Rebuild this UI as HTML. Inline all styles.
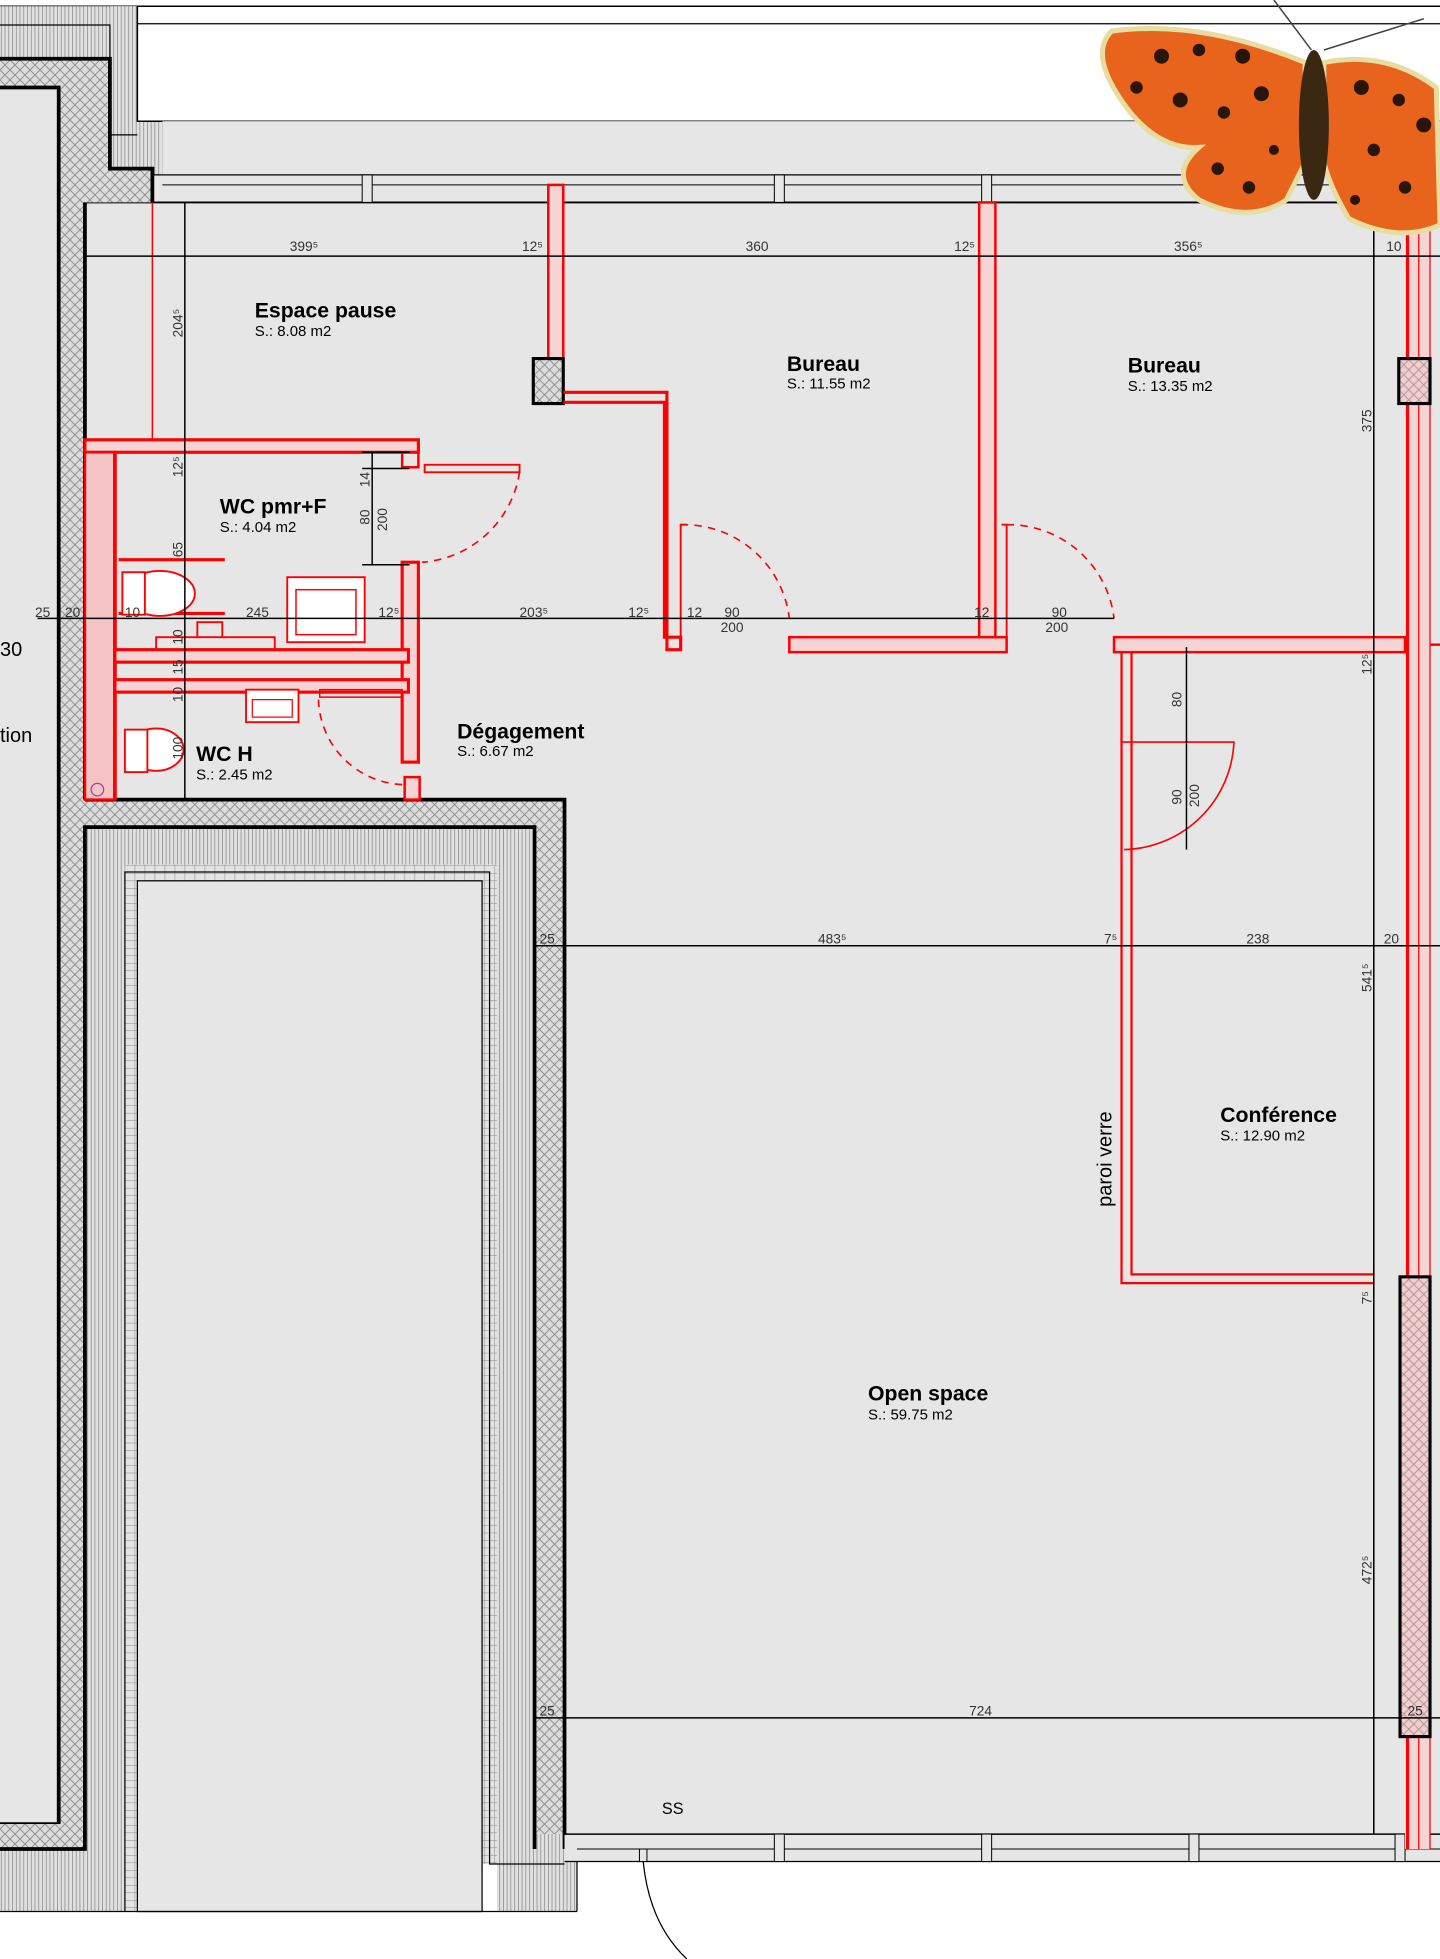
<!DOCTYPE html>
<html><head><meta charset="utf-8"><style>html,body{margin:0;padding:0;background:#fff}svg{display:block}text{font-family:"Liberation Sans",sans-serif}</style></head><body>
<svg width="1440" height="1959" viewBox="0 0 1153 1568" preserveAspectRatio="none" xmlns="http://www.w3.org/2000/svg">
<defs>
<pattern id="h" width="8" height="8" patternUnits="userSpaceOnUse"><rect width="8" height="8" fill="#dcdcdc"/><path d="M0 0L8 8M8 0L0 8" stroke="#888" stroke-width="0.7"/></pattern>
<pattern id="hp" width="8" height="8" patternUnits="userSpaceOnUse"><rect width="8" height="8" fill="#f6cccc"/><path d="M0 0L8 8M8 0L0 8" stroke="#999" stroke-width="0.7"/></pattern>
<pattern id="v" width="3" height="8" patternUnits="userSpaceOnUse"><rect width="3" height="8" fill="#e0e0e0"/><path d="M1 0V8" stroke="#777" stroke-width="0.5"/></pattern>
<pattern id="hz" width="8" height="6" patternUnits="userSpaceOnUse"><rect width="8" height="6" fill="#e3e3e3"/><path d="M0 3H8M4 0V6" stroke="#888" stroke-width="0.4"/></pattern>
</defs>
<rect width="1153" height="1568" fill="#fff"/>
<line x1="0" y1="5" x2="1153" y2="5" stroke="#000" stroke-width="1.2"/>
<line x1="110" y1="19" x2="1153" y2="19" stroke="#000" stroke-width="1"/>
<rect x="0" y="5" width="110" height="42" fill="url(#v)"/>
<rect x="88" y="5" width="22" height="135" fill="url(#v)"/>
<rect x="110" y="97" width="20" height="43" fill="url(#v)"/>
<path d="M0 20H88V108H110" fill="none" stroke="#000" stroke-width="1"/>
<path d="M110 5V97H1153" fill="none" stroke="#000" stroke-width="1.2"/>
<rect x="130" y="97" width="1023" height="1371" fill="#e6e6e6"/>
<rect x="0" y="70" width="47" height="1390" fill="#e6e6e6"/>
<rect x="68" y="162" width="1085" height="1306" fill="#e6e6e6"/>
<rect x="122" y="140" width="1031" height="22" fill="#e6e6e6"/>
<line x1="122" y1="140" x2="1153" y2="140" stroke="#000"/>
<line x1="130" y1="148" x2="1153" y2="148" stroke="#000" stroke-width="0.8"/>
<line x1="68" y1="162" x2="1153" y2="162" stroke="#000" stroke-width="1.5"/>
<g fill="#e6e6e6" stroke="#000" stroke-width="0.8"><rect x="290" y="140" width="8" height="22"/><rect x="620" y="140" width="8" height="22"/><rect x="786" y="140" width="8" height="22"/></g>
<rect x="0" y="47" width="88" height="23" fill="url(#h)"/>
<rect x="47" y="47" width="41" height="115" fill="url(#h)"/>
<rect x="47" y="47" width="21" height="1420" fill="url(#h)"/>
<rect x="47" y="135" width="75" height="27" fill="url(#h)"/>
<path d="M0 47H88V135H122V162" fill="none" stroke="#000" stroke-width="3"/>
<path d="M0 70H47V1460H0" fill="none" stroke="#000" stroke-width="3"/>
<line x1="68" y1="162" x2="68" y2="640" stroke="#000" stroke-width="3"/>
<rect x="0" y="1460" width="68" height="20" fill="url(#h)"/>
<rect x="0" y="1480" width="100" height="50" fill="url(#v)"/>
<rect x="68" y="640" width="384" height="22" fill="url(#h)"/>
<rect x="428" y="640" width="24" height="840" fill="url(#h)"/>
<rect x="68" y="662" width="32" height="868" fill="url(#v)"/>
<rect x="398" y="662" width="30" height="868" fill="url(#v)"/>
<rect x="428" y="1468" width="34" height="62" fill="url(#v)"/>
<rect x="68" y="662" width="360" height="30" fill="url(#v)"/>
<rect x="100" y="692" width="298" height="13" fill="url(#hz)"/>
<rect x="100" y="692" width="10" height="838" fill="url(#hz)"/>
<rect x="386" y="692" width="12" height="800" fill="url(#hz)"/>
<rect x="110" y="705" width="276" height="825" fill="#e6e6e6" stroke="#000" stroke-width="1"/>
<path d="M68 640H452V1480" fill="none" stroke="#000" stroke-width="3"/>
<path d="M0 1480H68V662H428V1480" fill="none" stroke="#000" stroke-width="3"/>
<path d="M100 1530V698H392V1492H452" fill="none" stroke="#000" stroke-width="1"/>
<line x1="0" y1="1530" x2="462" y2="1530" stroke="#000"/>
<line x1="462" y1="1468" x2="462" y2="1530" stroke="#000"/>
<rect x="452" y="1468" width="701" height="22" fill="#e6e6e6"/>
<line x1="452" y1="1468" x2="1153" y2="1468" stroke="#000" stroke-width="1.2"/>
<line x1="462" y1="1480" x2="1153" y2="1480" stroke="#000" stroke-width="0.8"/>
<line x1="452" y1="1490" x2="1153" y2="1490" stroke="#000" stroke-width="1"/>
<g fill="#e6e6e6" stroke="#000" stroke-width="0.8"><rect x="620" y="1468" width="8" height="22"/><rect x="786" y="1468" width="8" height="22"/><rect x="952" y="1468" width="8" height="22"/><rect x="1117" y="1468" width="8" height="22"/><rect x="512" y="1480" width="6" height="10"/></g>
<path d="M515 1490Q520 1540 550 1568" fill="none" stroke="#000" stroke-width="1"/>
<line x1="1100" y1="162" x2="1100" y2="1468" stroke="#000" stroke-width="1"/>
<rect x="1125" y="162" width="20" height="1318" fill="#f4d4d4"/>
<line x1="1127" y1="162" x2="1127" y2="1480" stroke="#f00" stroke-width="2.5"/>
<line x1="1136" y1="162" x2="1136" y2="1480" stroke="#f00" stroke-width="1"/>
<line x1="1145" y1="162" x2="1145" y2="1480" stroke="#f00" stroke-width="1"/>
<rect x="1120" y="287" width="25" height="36" fill="url(#hp)" stroke="#000" stroke-width="2.5"/>
<rect x="1121" y="1022" width="24" height="368" fill="url(#hp)" stroke="#000" stroke-width="2.5"/>
<g fill="none" stroke="#f00">
<line x1="122" y1="162" x2="122" y2="352" stroke-width="1.2"/>
<rect x="439" y="148" width="12" height="140" fill="#f4d4d4" stroke-width="2"/>
<rect x="427" y="287" width="24" height="36" fill="url(#h)" stroke="#000" stroke-width="2.5"/>
<path d="M451 314H534V520H545V510H532V322H451" stroke-width="2.5"/>
<rect x="784" y="162" width="13" height="355" fill="#f4d4d4" stroke-width="2"/>
<path d="M797 517H806V420H802" stroke-width="1.5"/>
<path d="M545 520V420H550" stroke-width="1.5"/>
<rect x="632" y="510" width="174" height="12" fill="#f4d4d4" stroke-width="2"/>
<rect x="892" y="510" width="233" height="12" fill="#f4d4d4" stroke-width="2"/>
<line x1="1145" y1="516" x2="1153" y2="516" stroke-width="2"/>
<path d="M898 522V1027H1100M906 522V1020H1100" stroke-width="1.8"/>
<path d="M898 594H988A90 90 0 0 1 900 680" stroke-width="1.3"/>
<rect x="68" y="352" width="267" height="10" fill="#f4d4d4" stroke-width="2.5"/>
<rect x="68" y="362" width="24" height="278" fill="#f4c4c4" stroke-width="2"/>
<line x1="92" y1="362" x2="92" y2="640" stroke-width="3"/>
<path d="M322 362V374H335V352" stroke-width="2"/>
<rect x="340" y="372" width="76" height="6" stroke-width="1.5"/>
<path d="M416 378A85 85 0 0 1 338 450" stroke-width="1.3" stroke-dasharray="6 5"/>
<rect x="322" y="450" width="13" height="160" fill="#f4d4d4" stroke-width="2.5"/>
<rect x="92" y="520" width="235" height="10" fill="#f4d4d4" stroke-width="2.5"/>
<rect x="92" y="544" width="235" height="10" fill="#f4d4d4" stroke-width="2.5"/>
<line x1="95" y1="491" x2="180" y2="491" stroke-width="2.5"/>
<line x1="95" y1="448" x2="180" y2="448" stroke-width="2.5"/>
<ellipse cx="128" cy="475" rx="28" ry="18" fill="#fff" stroke-width="1.5"/>
<rect x="98" y="458" width="18" height="34" fill="#fff" stroke-width="1.5"/>
<rect x="230" y="462" width="62" height="52" fill="#fff" stroke-width="1.5"/>
<rect x="237" y="472" width="48" height="36" fill="#fff" stroke-width="1.2"/>
<path d="M125 520V510H220V520M158 510V498H178V510" stroke-width="1.5"/>
<rect x="197" y="552" width="42" height="26" fill="#fff" stroke-width="1.5"/>
<rect x="202" y="560" width="32" height="14" stroke-width="1"/>
<ellipse cx="125" cy="600" rx="22" ry="17" fill="#fff" stroke-width="1.5"/>
<rect x="100" y="584" width="18" height="34" fill="#fff" stroke-width="1.5"/>
<rect x="256" y="552" width="66" height="6" stroke-width="1.2"/>
<path d="M255 560A70 70 0 0 0 326 628" stroke-width="1.3" stroke-dasharray="6 5"/>
<rect x="324" y="622" width="12" height="18" fill="#f4d4d4" stroke-width="2"/>
<path d="M545 420A85 85 0 0 1 632 495" stroke-width="1.3" stroke-dasharray="6 5"/>
<path d="M806 420A85 85 0 0 1 892 495" stroke-width="1.3" stroke-dasharray="6 5"/>
</g>
<circle cx="78" cy="632" r="5" fill="none" stroke="#a040a0"/>
<g stroke="#000" stroke-width="1.2" fill="none">
<line x1="68" y1="205" x2="1153" y2="205"/>
<line x1="30" y1="495" x2="892" y2="495"/>
<line x1="428" y1="757" x2="1153" y2="757"/>
<line x1="428" y1="1375" x2="1153" y2="1375"/>
<line x1="148" y1="162" x2="148" y2="640"/>
<line x1="298" y1="362" x2="298" y2="452"/>
<line x1="290" y1="362" x2="328" y2="362"/><line x1="290" y1="375" x2="328" y2="375"/><line x1="290" y1="452" x2="328" y2="452"/>
<line x1="950" y1="518" x2="950" y2="680"/>
<line x1="1100" y1="162" x2="1100" y2="1468"/>
</g>
<g font-weight="bold" font-size="17" fill="#000">
<text x="204" y="254">Espace pause</text>
<text x="630" y="297">Bureau</text>
<text x="903" y="298">Bureau</text>
<text x="176" y="411">WC pmr+F</text>
<text x="157" y="609">WC H</text>
<text x="366" y="591">Dégagement</text>
<text x="977" y="898">Conférence</text>
<text x="695" y="1121">Open space</text>
</g>
<g font-size="12" fill="#000">
<text x="204" y="269">S.:  8.08 m2</text>
<text x="630" y="311">S.: 11.55 m2</text>
<text x="903" y="313">S.: 13.35 m2</text>
<text x="176" y="426">S.:  4.04 m2</text>
<text x="157" y="624">S.:  2.45 m2</text>
<text x="366" y="605">S.:  6.67 m2</text>
<text x="977" y="913">S.:  12.90 m2</text>
<text x="695" y="1136">S.: 59.75 m2</text>
<text x="0" y="525" font-size="16">30</text>
<text x="0" y="594" font-size="16">tion</text>
<text x="530" y="1452" font-size="13">SS</text>
</g>
<g font-size="11" fill="#333">
<text x="232" y="201">399⁵</text><text x="418" y="201">12⁵</text><text x="597" y="201">360</text><text x="764" y="201">12⁵</text><text x="940" y="201">356⁵</text><text x="1110" y="201">10</text>
<text x="28" y="494">25</text><text x="52" y="494">20</text><text x="100" y="494">10</text><text x="197" y="494">245</text><text x="303" y="494">12⁵</text><text x="416" y="494">203⁵</text><text x="503" y="494">12⁵</text><text x="550" y="494">12</text>
<text x="580" y="494">90</text><text x="577" y="506">200</text><text x="780" y="494">12</text><text x="842" y="494">90</text><text x="837" y="506">200</text>
<text x="432" y="755">25</text><text x="655" y="755">483⁵</text><text x="884" y="755">7⁵</text><text x="998" y="755">238</text><text x="1108" y="755">20</text>
<text x="432" y="1373">25</text><text x="776" y="1373">724</text><text x="1127" y="1373">25</text>
</g>
<g font-size="11" fill="#333">
<text transform="translate(146,270) rotate(-90)">204⁵</text>
<text transform="translate(146,382) rotate(-90)">12⁵</text>
<text transform="translate(146,446) rotate(-90)">65</text>
<text transform="translate(146,516) rotate(-90)">10</text>
<text transform="translate(146,540) rotate(-90)">15</text>
<text transform="translate(146,562) rotate(-90)">10</text>
<text transform="translate(146,608) rotate(-90)">100</text>
<text transform="translate(296,390) rotate(-90)">14</text>
<text transform="translate(296,420) rotate(-90)">80</text>
<text transform="translate(310,425) rotate(-90)">200</text>
<text transform="translate(946,566) rotate(-90)">80</text>
<text transform="translate(946,644) rotate(-90)">90</text>
<text transform="translate(960,646) rotate(-90)">200</text>
<text transform="translate(1098,346) rotate(-90)">375</text>
<text transform="translate(1098,540) rotate(-90)">12⁵</text>
<text transform="translate(1098,794) rotate(-90)">541⁵</text>
<text transform="translate(1098,1044) rotate(-90)">7⁵</text>
<text transform="translate(1098,1268) rotate(-90)">472⁵</text>
<text transform="translate(890,966) rotate(-90)" font-size="16" fill="#000">paroi verre</text>
</g>
<g>
<line x1="1050" y1="40" x2="1020" y2="0" stroke="#444" stroke-width="1.2"/>
<line x1="1060" y1="40" x2="1140" y2="15" stroke="#444" stroke-width="1.2"/>
<path d="M1045 50Q960 15 890 25Q870 45 905 90Q930 120 960 118Q935 140 960 160Q1000 180 1030 160L1045 130Z" fill="#e8641c" stroke="#e8dca0" stroke-width="4"/>
<path d="M1060 50Q1110 40 1150 70L1153 180Q1120 195 1080 175Q1065 150 1060 130Z" fill="#e8641c" stroke="#e8dca0" stroke-width="4"/>
<g fill="#2a1608">
<circle cx="930" cy="45" r="6"/><circle cx="960" cy="40" r="5"/><circle cx="995" cy="45" r="6"/><circle cx="910" cy="70" r="5"/><circle cx="945" cy="80" r="6"/><circle cx="980" cy="90" r="5"/><circle cx="1010" cy="75" r="6"/><circle cx="975" cy="135" r="5"/><circle cx="1000" cy="150" r="5"/><circle cx="1020" cy="120" r="4"/>
<circle cx="1090" cy="70" r="6"/><circle cx="1120" cy="80" r="5"/><circle cx="1140" cy="100" r="6"/><circle cx="1100" cy="120" r="5"/><circle cx="1125" cy="150" r="5"/><circle cx="1085" cy="160" r="4"/>
</g>
<ellipse cx="1052" cy="100" rx="12" ry="60" fill="#3a2812"/>
</g>
</svg>
</body></html>
